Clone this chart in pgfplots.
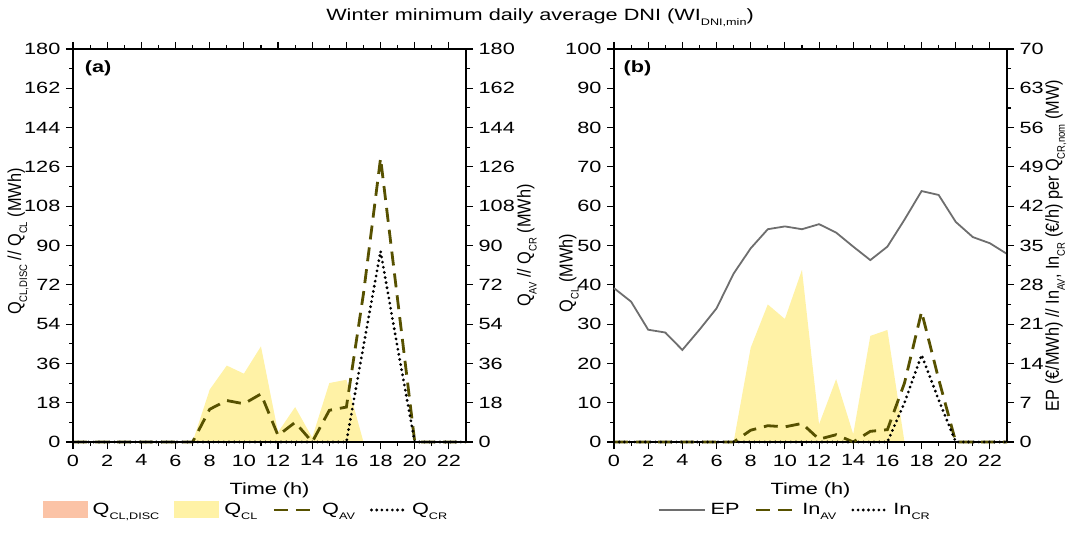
\documentclass[border=0pt]{standalone}
\usepackage{fontspec}
\setmainfont{Liberation Sans}[FakeStretch=1.33]
\newfontfamily\plainsans{Liberation Sans}
\usepackage{pgfplots}
\usepackage{pgfplotstable}
\pgfplotsset{compat=1.18}

\definecolor{qclfill}{HTML}{FFF2A6}
\definecolor{qdisc}{HTML}{FBC3A6}
\definecolor{avolive}{HTML}{575100}
\definecolor{epgray}{HTML}{6E6E6E}

\newcommand{\sub}[1]{\raisebox{-0.6ex}{\fontsize{9.5}{11}\selectfont #1}}

% hourly values, winter minimum DNI day
\pgfplotstableread{
h   qcl   qav   qcr   ep    inav  incr
0   0     0     0     27.4  0     0
1   0     0     0     25.0  0     0
2   0     0     0     20.0  0     0
3   0     0     0     19.5  0     0
4   0     0     0     16.4  0     0
5   0     0     0     20.0  0     0
6   0     0     0     23.8  0     0
7   0     0     0     30.0  0     0
8   24.0  15.0  0     34.5  2.1   0
9   35.0  19.0  0     37.9  2.9   0
10  31.3  17.5  0     38.4  2.7   0
11  43.8  22.0  0     37.9  3.3   0
12  4.5   3.0   0     38.8  0.5   0
13  16.0  9.0   0     37.3  1.3   0
14  2.0   0     0     34.8  0     0
15  27.0  14.5  0     32.4  1.9   0
16  28.5  16.0  0     34.8  2.2   0
17  0     68.0  44.0  39.6  10.5  7.0
18  0     130.0 87.4  44.7  23.2  15.5
19  0     65.0  43.0  44.0  11.2  7.5
20  0     0     0     39.2  0     0
21  0     0     0     36.5  0     0
22  0     0     0     35.4  0     0
23  0     0     0     33.5  0     0
}\hourly

\pgfplotsset{
  panel/.style={
    scale only axis, width=393pt, height=393pt,
    xmin=0, xmax=23, ymin=0,
    tick align=outside, major tick length=7pt, minor tick length=4pt,
    axis line style={line width=1.1pt},
    every tick/.append style={black, line width=1.1pt},
    /pgf/number format/assume math mode=true,
    clip=false, axis on top,
    xtick={0,2,...,22}, minor x tick num=1, minor y tick num=1,
  },
  leftside/.style={
    ytick pos=left, xtick pos=both, xticklabel pos=lower,
    xlabel={Time (h)},
    every axis x label/.style={at={(axis description cs:0.5,-0.122)}, anchor=center},
  },
  rightside/.style={
    axis y line*=right, axis x line=none,
  },
  % rotated axis titles: plain face, slightly widened across the line of text
  ylab/.style 2 args={every axis y label/.style={at={(axis description cs:#1,#2)},
      anchor=center, font=\plainsans, rotate=90, yscale=1.15}},
  avline/.style={avolive, line width=2.8pt, dash pattern=on 14pt off 8pt},
  crline/.style={black, line width=3.1pt, line cap=round, dash pattern=on 0pt off 5.2pt},
  lineimg/.style={legend image code/.code={\draw[##1] (0pt,0pt) -- (#1,0pt);}},
  boximg/.style={legend image code/.code={\fill[##1] (0pt,-8.5pt) rectangle (45pt,8.5pt);}},
  legrow/.style={
    legend columns=4, legend cell align=left,
    legend style={draw=none, fill=none, at={(axis description cs:#1,-0.173)}, anchor=center,
      /tikz/every even column/.append style={column sep=13pt},
      /tikz/every odd column/.append style={column sep=3pt}},
  },
}

\begin{document}
\fontsize{16.3}{19}\selectfont
\begin{tikzpicture}
\useasboundingbox (0,0) rectangle (1067pt,533pt);

% ---------- panel (a) ----------
\begin{axis}[panel, leftside, legrow=0.44,
  at={(73pt,91pt)}, anchor=south west,
  ymax=180, ytick={0,18,...,180},
  ylabel={Q\sub{CL,DISC} // Q\sub{CL} (MWh)},
  ylab={-0.14}{0.51},
]
\addlegendimage{boximg, fill=qdisc, draw=none}
\addlegendentry{Q\sub{CL,DISC}}
\addplot[boximg, fill=qclfill, draw=none] table[x=h, y=qcl] {\hourly} \closedcycle;
\addlegendentry{Q\sub{CL}}
\addplot[avline, lineimg=42pt] table[x=h, y=qav] {\hourly};
\addlegendentry{Q\sub{AV}}
\addplot[crline, lineimg=34pt] table[x=h, y=qcr] {\hourly};
\addlegendentry{Q\sub{CR}}
\node[font=\bfseries] at (axis description cs:0.064,0.952) {(a)};
\end{axis}
\begin{axis}[panel, rightside,
  at={(73pt,91pt)}, anchor=south west,
  ymax=180, ytick={0,18,...,180},
  ylabel={Q\sub{AV} // Q\sub{CR} (MWh)},
  ylab={1.155}{0.5},
]
\end{axis}

% ---------- panel (b) ----------
\begin{axis}[panel, leftside,
  at={(614pt,91pt)}, anchor=south west,
  ymax=100, ytick={0,10,...,100},
  ylabel={Q\sub{CL} (MWh)},
  ylab={-0.115}{0.43},
]
\addplot[fill=qclfill, draw=none] table[x=h, y=qcl] {\hourly} \closedcycle;
\node[font=\bfseries] at (axis description cs:0.06,0.952) {(b)};
\end{axis}
\begin{axis}[panel, rightside, legrow=0.46,
  at={(614pt,91pt)}, anchor=south west,
  ymax=70, ytick={0,7,...,70},
  ylabel={EP (€/MWh) // In\sub{AV}, In\sub{CR} (€/h) per Q\sub{CR,nom} (MW)},
  ylab={1.124}{0.5},
]
\addplot[epgray, line width=1.8pt, lineimg=46pt] table[x=h, y=ep] {\hourly};
\addlegendentry{EP}
\addplot[avline, lineimg=40pt] table[x=h, y=inav] {\hourly};
\addlegendentry{In\sub{AV}}
\addplot[crline, lineimg=34pt] table[x=h, y=incr] {\hourly};
\addlegendentry{In\sub{CR}}
\end{axis}

\node at (540pt,515pt) {Winter minimum daily average DNI (WI\sub{DNI,min})};
\end{tikzpicture}
\end{document}
